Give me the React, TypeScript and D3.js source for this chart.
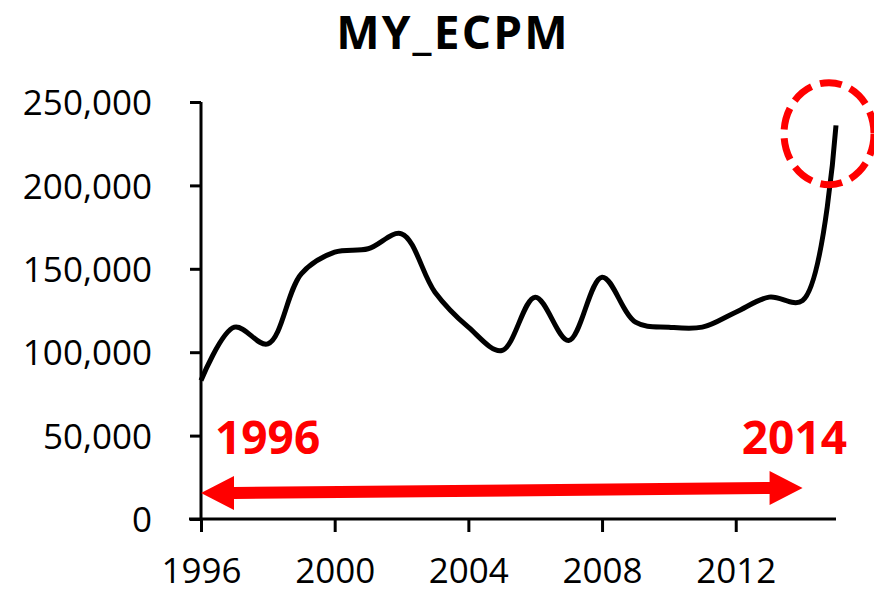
import { useEffect, useRef } from "react"
import * as d3 from "d3"

// values
const years = [1996, 1997, 1998, 1999, 2000, 2001, 2002, 2003, 2004, 2005, 2006, 2007, 2008, 2009, 2010, 2011, 2012, 2013, 2014, 2015]
const ecpm = [83000, 115000, 105000, 147000, 160000, 162000, 171000, 136000, 115000, 101000, 133000, 107000, 145000, 118000, 115000, 115000, 124000, 133000, 131000, 236000]
const yTicks = [0, 50000, 100000, 150000, 200000, 250000]
const xTicks = [1996, 2000, 2004, 2008, 2012]
const title = "MY_ECPM"
const spanLabels = ["1996", "2014"]

export default function App() {
  const svgRef = useRef<SVGSVGElement>(null)

  useEffect(() => {
    const svg = d3.select(svgRef.current)
    const width = 874
    const height = 592
    const font = "'Open Sans', 'Noto Sans', sans-serif"
    const red = "#ff0000"

    svg.selectAll("*").remove()
    svg.attr("viewBox", [0, 0, width, height])

    const x = d3.scaleLinear().domain([1996, 2015]).range([201, 836])
    const y = d3.scaleLinear().domain([0, 250000]).range([519, 102])

    // title
    svg.append("text")
      .attr("x", 453)
      .attr("y", 49)
      .attr("text-anchor", "middle")
      .attr("font-family", font)
      .attr("font-weight", 700)
      .attr("font-size", 46)
      .attr("letter-spacing", 2.2)
      .text(title)

    // y axis
    const yAxis = svg.append("g")
      .attr("transform", `translate(${x(1996)},0)`)
      .call(d3.axisLeft(y).tickValues(yTicks).tickSize(11).tickPadding(38).tickFormat(d3.format(",")))
    yAxis.select(".domain").attr("stroke-width", 3).attr("d", `M0,${y(250000)}V${y(0)}`)
    yAxis.selectAll(".tick line").attr("stroke-width", 3)
    yAxis.selectAll(".tick text")
      .attr("font-family", font)
      .attr("font-size", 35)
      .attr("fill", "#000")
      .attr("dy", "0.36em")

    // x axis
    const xAxis = svg.append("g")
      .attr("transform", `translate(0,${y(0)})`)
      .call(d3.axisBottom(x).tickValues(xTicks).tickSize(13).tickPadding(25).tickFormat(d3.format("d")))
    xAxis.select(".domain").attr("stroke-width", 3).attr("d", `M${x(1996) - 12},0H${x(2015)}`)
    xAxis.selectAll(".tick line").attr("stroke-width", 3)
    xAxis.selectAll(".tick text")
      .attr("font-family", font)
      .attr("font-size", 35)
      .attr("fill", "#000")
      .attr("dy", "0.75em")

    // smoothed line
    const line = d3.line<number>()
      .x((_, i) => x(years[i]))
      .y(d => y(d))
      .curve(d3.curveCatmullRom.alpha(0.5))

    svg.append("path")
      .datum(ecpm)
      .attr("fill", "none")
      .attr("stroke", "#000")
      .attr("stroke-width", 5)
      .attr("stroke-linejoin", "round")
      .attr("d", line)

    // red double arrow 1996 -> 2014
    const ax0 = x(1996)
    const ax1 = x(2014)
    const ay0 = 493
    const ay1 = 488
    const head = 33
    const half = 17
    const shaft = 6
    const pts: [number, number][] = [
      [ax0, ay0],
      [ax0 + head, ay0 - half],
      [ax0 + head, ay0 - shaft],
      [ax1 - head, ay1 - shaft],
      [ax1 - head, ay1 - half],
      [ax1, ay1],
      [ax1 - head, ay1 + half],
      [ax1 - head, ay1 + shaft],
      [ax0 + head, ay0 + shaft],
      [ax0 + head, ay0 + half],
    ]
    svg.append("path")
      .attr("d", d3.line()(pts) + "Z")
      .attr("fill", red)

    svg.append("text")
      .attr("x", x(1996) + 14)
      .attr("y", 454)
      .attr("font-family", font)
      .attr("font-weight", 700)
      .attr("font-size", 46)
      .attr("fill", red)
      .text(spanLabels[0])

    svg.append("text")
      .attr("x", x(2015) + 11)
      .attr("y", 454)
      .attr("text-anchor", "end")
      .attr("font-family", font)
      .attr("font-weight", 700)
      .attr("font-size", 46)
      .attr("fill", red)
      .text(spanLabels[1])

    // dashed highlight around the last point
    svg.append("ellipse")
      .attr("cx", x(2015) - 7)
      .attr("cy", y(231000))
      .attr("rx", 45)
      .attr("ry", 51)
      .attr("fill", "none")
      .attr("stroke", red)
      .attr("stroke-width", 7)
      .attr("stroke-dasharray", "22 9")
  }, [])

  return <svg ref={svgRef} width={874} height={592} style={{ position: "absolute", left: 0, top: 0, background: "#fff" }} />
}
